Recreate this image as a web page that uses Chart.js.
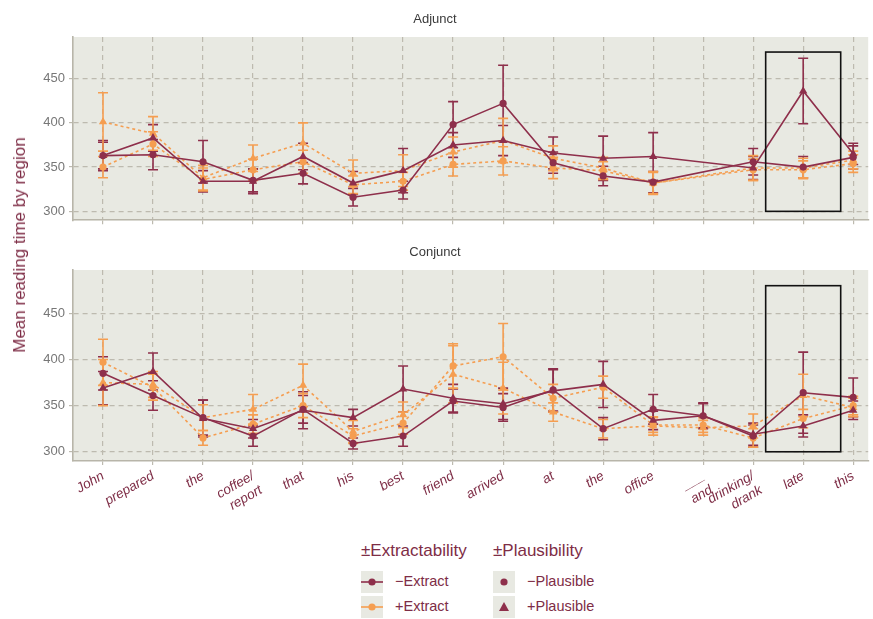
<!DOCTYPE html>
<html>
<head>
<meta charset="utf-8">
<script src="https://cdn.jsdelivr.net/npm/chart.js@4"></script>
<style>
  body { margin: 0; background: #fff; font-family: "Liberation Sans", Arial, sans-serif; }
  #wrap { position: relative; width: 873px; height: 619px; }
  canvas { position: absolute; left: 0; }
  #ytitle { position: absolute; left: 20px; top: 245px; transform: translate(-50%, -50%) rotate(-90deg);
            color: #7E2D46; font-size: 17px; white-space: nowrap; }
  .lg { position: absolute; color: #7E2D46; white-space: nowrap; }
  .lgh { font-size: 17px; }
  .lgi { font-size: 14.5px; }
  .key { position: absolute; width: 22px; height: 22px; background: #E8E9E2; }
</style>
</head>
<body>
<div id="wrap">
  <canvas id="adj" width="873" height="232" style="top:0"></canvas>
  <canvas id="con" width="873" height="300" style="top:232px"></canvas>
  <div id="ytitle">Mean reading time by region</div>

  <div class="lg lgh" style="left:361px; top:541px">±Extractability</div>
  <div class="lg lgh" style="left:493px; top:541px">±Plausibility</div>

  <div class="key" style="left:361px; top:571px"><svg width="22" height="22"><line x1="0" y1="11" x2="22" y2="11" stroke="#8E2F4B" stroke-width="1.6"/><circle cx="11" cy="11" r="3.6" fill="#8E2F4B"/></svg></div>
  <div class="key" style="left:361px; top:596px"><svg width="22" height="22"><line x1="0" y1="11" x2="22" y2="11" stroke="#F59E51" stroke-width="1.6"/><circle cx="11" cy="11" r="3.6" fill="#F59E51"/></svg></div>
  <div class="lg lgi" style="left:395px; top:573px">−Extract</div>
  <div class="lg lgi" style="left:395px; top:598px">+Extract</div>

  <div class="key" style="left:493px; top:571px"><svg width="22" height="22"><circle cx="11" cy="11" r="3.6" fill="#8E2F4B"/></svg></div>
  <div class="key" style="left:493px; top:596px"><svg width="22" height="22"><polygon points="11,6 16,15 6,15" fill="#8E2F4B"/></svg></div>
  <div class="lg lgi" style="left:527px; top:573px">−Plausible</div>
  <div class="lg lgi" style="left:527px; top:598px">+Plausible</div>
</div>

<script>
// regiones de la frase
const regions = ['John', 'prepared', 'the', ['coffee/', 'report'], 'that', 'his', 'best', 'friend',
  'arrived', 'at', 'the', 'office', ['___', 'and'], ['drinking/', 'drank'], 'late', 'this'];
const yTicks = [300, 350, 400, 450];

// Adjunct
const adjMinusExtMinusPl = [363, 364, 356, 335, 343, 316, 324, 398, 422, 355, 340, 333, null, 356, 350, 361];
const adjMinusExtMinusPlErr = [15, 17, 24, 13, 12, 10, 10, 26, 43, 12, 11, 12, null, 15, 12, 13];
const adjMinusExtPlusPl = [363, 383, 334, 334, 362, 332, 346, 375, 380, 366, 360, 362, null, 349, 436, 365];
const adjMinusExtPlusPlErr = [17, 15, 12, 14, 15, 13, 25, 14, 17, 18, 25, 27, null, 13, 37, 12];
const adjPlusExtMinusPl = [350, 376, 336, 347, 356, 330, 334, 353, 357, 349, 346, 332, null, 347, 347, 354];
const adjPlusExtMinusPlErr = [12, 14, 13, 12, 13, 10, 10, 13, 16, 12, 10, 12, null, 12, 10, 10];
const adjPlusExtPlusPl = [401, 388, 338, 360, 377, 343, 346, 367, 380, 360, 349, 332, null, 349, 349, 358];
const adjPlusExtPlusPlErr = [33, 19, 14, 15, 23, 15, 18, 17, 25, 14, 12, 13, null, 14, 11, 10];

// Conjunct
const conMinusExtMinusPl = [385, 361, 337, 317, 346, 309, 317, 355, 348, 367, 325, 346, 339, 317, 364, 359];
const conMinusExtMinusPlErr = [18, 16, 19, 11, 15, 6, 11, 13, 15, 23, 12, 16, 14, 12, 44, 21];
const conMinusExtPlusPl = [369, 387, 336, 325, 345, 337, 368, 358, 352, 366, 373, 334, 339, 319, 328, 345];
const conMinusExtPlusPlErr = [18, 20, 20, 10, 20, 9, 25, 15, 17, 23, 25, 10, 13, 12, 12, 10];
const conPlusExtMinusPl = [397, 370, 315, 330, 350, 317, 331, 393, 403, 358, 370, 329, 329, 315, 336, 350];
const conPlusExtMinusPlErr = [25, 14, 8, 10, 13, 8, 12, 24, 36, 15, 12, 8, 8, 10, 10, 10];
const conPlusExtPlusPl = [375, 373, 337, 346, 372, 322, 340, 384, 369, 343, 325, 328, 326, 328, 361, 348];
const conPlusExtPlusPlErr = [25, 14, 14, 16, 23, 12, 14, 31, 28, 10, 10, 10, 8, 13, 23, 10];

// recuadro resaltado en "late"
const boxX = [13.25, 14.75];
const boxY = [300, 480];

const DARK = '#8E2F4B';
const ORANGE = '#F59E51';
const TEXT = '#7E2D46';
const FONT = '"Liberation Sans", Arial, sans-serif';

function serie(vals, errs, color, shape, dashed) {
  return {
    data: vals.map((v, i) => ({ x: i, y: v })),
    errors: errs,
    borderColor: color,
    backgroundColor: color,
    borderWidth: 1.6,
    borderDash: dashed ? [3, 3] : [],
    pointStyle: shape,
    pointRadius: shape === 'triangle' ? 4.8 : 3.6,
    pointBorderWidth: 0,
    pointBackgroundColor: color,
    spanGaps: true,
    tension: 0
  };
}

// fondo del panel
const panelBg = {
  id: 'panelBg',
  beforeDraw(chart) {
    const a = chart.chartArea, ctx = chart.ctx;
    ctx.save();
    ctx.fillStyle = '#E8E9E2';
    ctx.fillRect(a.left, a.top, a.right - a.left, a.bottom - a.top);
    ctx.restore();
  }
};

// barras de error
const errorBars = {
  id: 'errorBars',
  beforeDatasetsDraw(chart) {
    const ctx = chart.ctx, xs = chart.scales.x, ys = chart.scales.y;
    ctx.save();
    chart.data.datasets.forEach(ds => {
      ctx.strokeStyle = ds.borderColor;
      ctx.lineWidth = 1.6;
      ds.data.forEach((p, i) => {
        const e = ds.errors[i];
        if (p.y == null || e == null) return;
        const x = xs.getPixelForValue(p.x);
        const y1 = ys.getPixelForValue(p.y - e), y2 = ys.getPixelForValue(p.y + e);
        ctx.beginPath();
        ctx.moveTo(x, y1); ctx.lineTo(x, y2);
        ctx.moveTo(x - 5, y1); ctx.lineTo(x + 5, y1);
        ctx.moveTo(x - 5, y2); ctx.lineTo(x + 5, y2);
        ctx.stroke();
      });
    });
    ctx.restore();
  }
};

// recuadro negro
const highlight = {
  id: 'highlight',
  afterDatasetsDraw(chart) {
    const ctx = chart.ctx, xs = chart.scales.x, ys = chart.scales.y;
    const x1 = xs.getPixelForValue(boxX[0]), x2 = xs.getPixelForValue(boxX[1]);
    const y1 = ys.getPixelForValue(boxY[1]), y2 = ys.getPixelForValue(boxY[0]);
    ctx.save();
    ctx.strokeStyle = '#111';
    ctx.lineWidth = 1.6;
    ctx.strokeRect(x1, y1, x2 - x1, y2 - y1);
    ctx.restore();
  }
};

function makeConfig(title, datasets, showLabels, titlePad, xHeight) {
  return {
    type: 'line',
    data: { datasets: datasets },
    plugins: [panelBg, errorBars, highlight],
    options: {
      responsive: false,
      animation: false,
      layout: { padding: { left: 0, right: 3, top: 0, bottom: 0 } },
      plugins: {
        legend: { display: false },
        tooltip: { enabled: false },
        title: {
          display: true, text: title, color: '#3a3a3a',
          font: { family: FONT, size: 13, weight: 'normal' },
          padding: titlePad
        }
      },
      scales: {
        x: {
          type: 'linear', min: -0.6, max: 15.3,
          afterBuildTicks: s => { s.ticks = regions.map((r, i) => ({ value: i })); },
          afterFit: s => { s.height = xHeight; },
          ticks: {
            display: showLabels, autoSkip: false, minRotation: 30, maxRotation: 30, padding: 3,
            color: TEXT, font: { family: FONT, size: 13.5, style: 'italic' },
            callback: v => regions[v]
          },
          grid: { color: '#BDBAAF', lineWidth: 1.2, tickLength: 4, tickColor: '#BDBAAF' },
          border: { display: true, color: '#B8B5A9', width: 1.6, dash: [5, 4] }
        },
        y: {
          min: 290, max: 497,
          afterBuildTicks: s => { s.ticks = yTicks.map(v => ({ value: v })); },
          afterFit: s => { s.width = 73; },
          ticks: { color: '#777', padding: 4, font: { family: FONT, size: 13 } },
          grid: { color: '#BDBAAF', lineWidth: 1.2, tickLength: 4, tickColor: '#BDBAAF' },
          border: { display: true, color: '#B8B5A9', width: 1.6, dash: [5, 4] }
        }
      }
    }
  };
}

document.addEventListener('DOMContentLoaded', function() {
  const adjSets = [
    serie(adjMinusExtMinusPl, adjMinusExtMinusPlErr, DARK, 'circle', false),
    serie(adjMinusExtPlusPl, adjMinusExtPlusPlErr, DARK, 'triangle', false),
    serie(adjPlusExtMinusPl, adjPlusExtMinusPlErr, ORANGE, 'circle', true),
    serie(adjPlusExtPlusPl, adjPlusExtPlusPlErr, ORANGE, 'triangle', true)
  ];
  const conSets = [
    serie(conMinusExtMinusPl, conMinusExtMinusPlErr, DARK, 'circle', false),
    serie(conMinusExtPlusPl, conMinusExtPlusPlErr, DARK, 'triangle', false),
    serie(conPlusExtMinusPl, conPlusExtMinusPlErr, ORANGE, 'circle', true),
    serie(conPlusExtPlusPl, conPlusExtPlusPlErr, ORANGE, 'triangle', true)
  ];
  new Chart(document.getElementById('adj').getContext('2d'),
    makeConfig('Adjunct', adjSets, false, { top: 12, bottom: 9.4 }, 5));
  new Chart(document.getElementById('con').getContext('2d'),
    makeConfig('Conjunct', conSets, true, { top: 13, bottom: 9.4 }, 71));
});
</script>
</body>
</html>
